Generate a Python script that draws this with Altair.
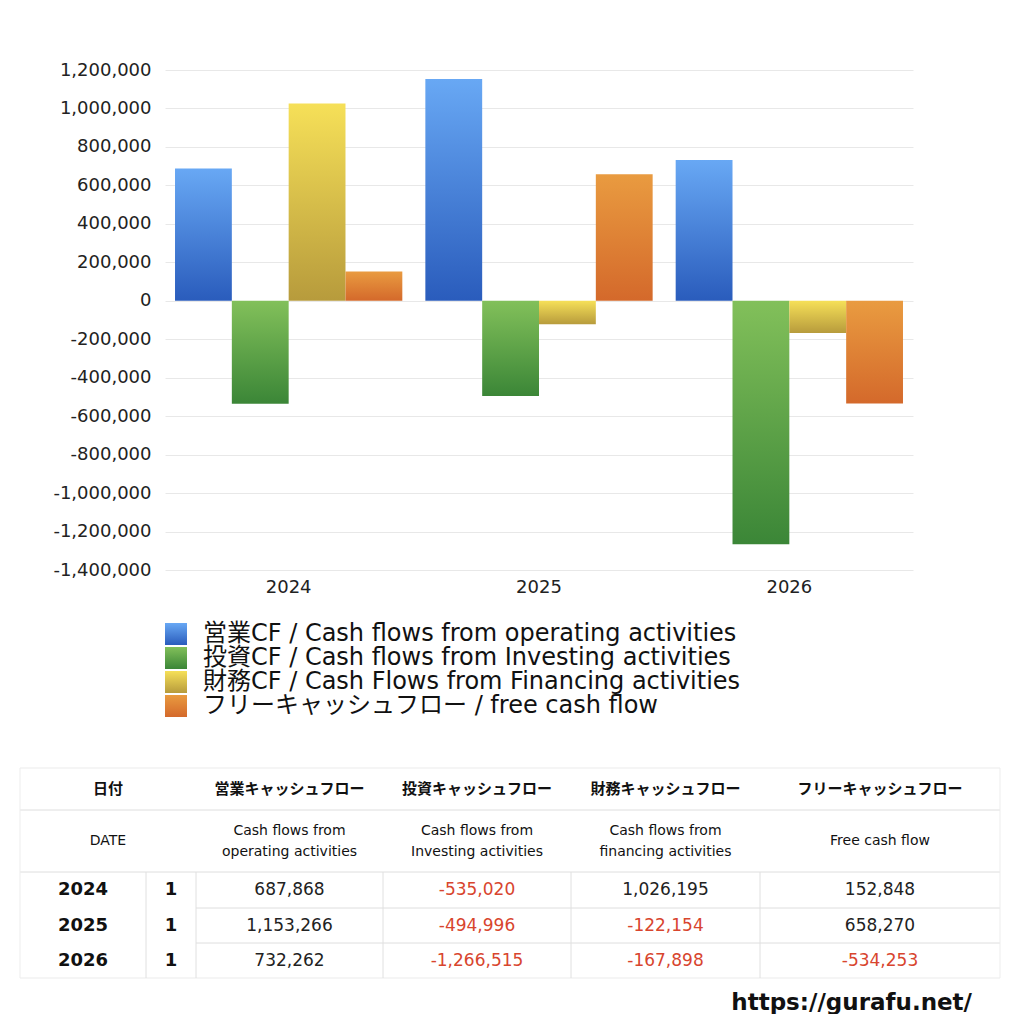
import altair as alt
import pandas as pd

# ---------------- data ----------------
years = ["2024", "2025", "2026"]
series_keys = ["op", "inv", "fin", "free"]
legend_labels = [
    "営業CF / Cash flows from operating activities",
    "投資CF / Cash flows from Investing activities",
    "財務CF / Cash Flows from Financing activities",
    "フリーキャッシュフロー / free cash flow",
]
operating = [687868, 1153266, 732262]
investing = [-535020, -494996, -1266515]
financing = [1026195, -122154, -167898]
free_cf = [152848, 658270, -534253]

header_ja = ["日付", "営業キャッシュフロー", "投資キャッシュフロー", "財務キャッシュフロー", "フリーキャッシュフロー"]
header_en = ["DATE", "Cash flows from\noperating activities", "Cash flows from\nInvesting activities",
             "Cash flows from\nfinancing activities", "Free cash flow"]
month_col = ["1", "1", "1"]
url_text = "https://gurafu.net/"

# ---------------- styles / layout ----------------
LATIN = "DejaVu Sans, Noto Sans CJK JP, sans-serif"
CJK = "Noto Sans CJK JP, DejaVu Sans, sans-serif"
gradients = {
    "op": ("#68a8f4", "#2a5cbc"),
    "inv": ("#82c05a", "#3b8637"),
    "fin": ("#f6e058", "#b79b3c"),
    "free": ("#e99b40", "#d4692b"),
}
ORIGIN_X, ORIGIN_Y = 165, 70
PLOT_W, PLOT_H = 748, 500


def grad(key):
    top, bot = gradients[key]
    return alt.Gradient(gradient="linear",
                        stops=[alt.GradientStop(color=top, offset=0), alt.GradientStop(color=bot, offset=1)],
                        x1=0, x2=0, y1=0, y2=1)


# ---------------- bar chart ----------------
values_by_key = {"op": operating, "inv": investing, "fin": financing, "free": free_cf}
bars_df = pd.DataFrame([
    {"year": y, "series": k, "value": values_by_key[k][i]}
    for k in series_keys for i, y in enumerate(years)
])

xenc = alt.X("year:N", title=None,
             scale=alt.Scale(domain=years, paddingInner=0.092, paddingOuter=0.04),
             axis=alt.Axis(labelAngle=0, labelFont=LATIN, labelFontSize=18, labelColor="#222",
                           labelPadding=8, ticks=False, domain=False, grid=False))
yenc = alt.Y("value:Q", title=None,
             scale=alt.Scale(domain=[-1400000, 1200000], nice=False),
             axis=alt.Axis(values=list(range(-1400000, 1200001, 200000)),
                           labelExpr="replace(format(datum.value, ',d'), '\u2212', '-')",
                           labelFont=LATIN, labelFontSize=18, labelColor="#222", labelPadding=14,
                           ticks=False, domain=False, gridColor="#e8e8e8", gridWidth=1))
xoff = alt.XOffset("series:N", scale=alt.Scale(domain=series_keys, paddingInner=0, paddingOuter=0))

bar_layers = [
    alt.Chart(bars_df).transform_filter(alt.datum.series == k)
    .mark_bar(color=grad(k)).encode(x=xenc, y=yenc, xOffset=xoff)
    for k in series_keys
]
bars = alt.layer(*bar_layers)

# ---------------- page-coordinate layers (legend, table, url) ----------------
PX = alt.Scale(domain=[0, 1000], range=[-ORIGIN_X, 1000 - ORIGIN_X], nice=False, zero=False)
PY = alt.Scale(domain=[0, 1000], range=[-ORIGIN_Y, 1000 - ORIGIN_Y], nice=False, zero=False)


def px(field):
    return alt.X(f"{field}:Q", scale=PX, axis=None)


def py(field):
    return alt.Y(f"{field}:Q", scale=PY, axis=None)


# legend
LEG_X, LEG_Y0, LEG_STEP, SW = 165, 634, 24, 22
leg_rows = [{"key": k, "label": legend_labels[i], "cy": LEG_Y0 + i * LEG_STEP} for i, k in enumerate(series_keys)]
leg_df = pd.DataFrame(leg_rows)
leg_df["x1"] = LEG_X
leg_df["x2"] = LEG_X + SW
leg_df["y1"] = leg_df["cy"] - SW / 2
leg_df["y2"] = leg_df["cy"] + SW / 2
leg_df["tx"] = LEG_X + SW + 16

legend_swatches = [
    alt.Chart(leg_df).transform_filter(alt.datum.key == k).mark_rect(color=grad(k))
    .encode(x=px("x1"), x2="x2:Q", y=py("y1"), y2="y2:Q")
    for k in series_keys
]
legend_text = alt.Chart(leg_df).mark_text(align="left", baseline="middle", font=LATIN, fontSize=24,
                                          color="#111").encode(x=px("tx"), y=py("cy"), text="label:N")

# table
COL_EDGES = [20, 146, 196, 383, 571, 760, 1000]
ROW_EDGES = [768, 810, 872, 908, 943, 978]
LINE_H = 21
col_centers = [(COL_EDGES[i] + COL_EDGES[i + 1]) / 2 for i in range(len(COL_EDGES) - 1)]
head_x = [(COL_EDGES[0] + COL_EDGES[2]) / 2] + col_centers[2:]
row_centers = [(ROW_EDGES[i] + ROW_EDGES[i + 1]) / 2 for i in range(len(ROW_EDGES) - 1)]

h1_df = pd.DataFrame({"x": head_x, "y": row_centers[0], "t": header_ja})
h2_rows = []
for x, txt in zip(head_x, header_en):
    lines = txt.split("\n")
    for i, ln in enumerate(lines):
        h2_rows.append({"x": x, "y": row_centers[1] + (i - (len(lines) - 1) / 2) * LINE_H, "t": ln})
h2_df = pd.DataFrame(h2_rows)
year_df = pd.DataFrame({"x": col_centers[0], "y": row_centers[2:], "t": years})
mon_df = pd.DataFrame({"x": col_centers[1], "y": row_centers[2:], "t": month_col})
val_rows = []
for i in range(len(years)):
    for j, k in enumerate(series_keys):
        v = values_by_key[k][i]
        val_rows.append({"x": col_centers[2 + j], "y": row_centers[2 + i], "v": v, "t": f"{v:,}"})
val_df = pd.DataFrame(val_rows)

h1 = alt.Chart(h1_df).mark_text(font=CJK, fontSize=15, fontWeight="bold", color="#111",
                                baseline="middle").encode(x=px("x"), y=py("y"), text="t:N")
h2 = alt.Chart(h2_df).mark_text(font=LATIN, fontSize=14, color="#111", baseline="middle").encode(
    x=px("x"), y=py("y"), text="t:N")
yr = alt.Chart(year_df).mark_text(font=LATIN, fontSize=18, fontWeight="bold", color="#111",
                                  baseline="middle").encode(x=px("x"), y=py("y"), text="t:N")
mo = alt.Chart(mon_df).mark_text(font=LATIN, fontSize=18, fontWeight="bold", color="#111",
                                 baseline="middle").encode(x=px("x"), y=py("y"), text="t:N")
vals = alt.Chart(val_df).mark_text(font=LATIN, fontSize=17, baseline="middle").encode(
    x=px("x"), y=py("y"), text="t:N",
    color=alt.condition(alt.datum.v < 0, alt.value("#d8452e"), alt.value("#222")))

hlines = pd.DataFrame([
    {"x1": COL_EDGES[0], "x2": COL_EDGES[-1], "y": ROW_EDGES[0], "c": "#ebebeb"},
    {"x1": COL_EDGES[0], "x2": COL_EDGES[-1], "y": ROW_EDGES[1], "c": "#dedede"},
    {"x1": COL_EDGES[0], "x2": COL_EDGES[-1], "y": ROW_EDGES[2], "c": "#dedede"},
    {"x1": COL_EDGES[2], "x2": COL_EDGES[-1], "y": ROW_EDGES[3], "c": "#dedede"},
    {"x1": COL_EDGES[2], "x2": COL_EDGES[-1], "y": ROW_EDGES[4], "c": "#dedede"},
    {"x1": COL_EDGES[0], "x2": COL_EDGES[-1], "y": ROW_EDGES[5], "c": "#ebebeb"},
])
vlines = pd.DataFrame(
    [{"x": COL_EDGES[0], "y1": ROW_EDGES[0], "y2": ROW_EDGES[-1], "c": "#ededed"},
     {"x": COL_EDGES[-1], "y1": ROW_EDGES[0], "y2": ROW_EDGES[-1], "c": "#ededed"}] +
    [{"x": e, "y1": ROW_EDGES[2], "y2": ROW_EDGES[-1], "c": "#e0e0e0"} for e in COL_EDGES[1:-1]]
)
hrule = alt.Chart(hlines).mark_rule(strokeWidth=1).encode(
    x=px("x1"), x2="x2:Q", y=py("y"), color=alt.Color("c:N", scale=None))
vrule = alt.Chart(vlines).mark_rule(strokeWidth=1).encode(
    x=px("x"), y=py("y1"), y2="y2:Q", color=alt.Color("c:N", scale=None))

url_df = pd.DataFrame({"x": [972], "y": [1003], "t": [url_text]})
url = alt.Chart(url_df).mark_text(font=LATIN, fontSize=23, fontWeight="bold", color="#111",
                                  align="right", baseline="middle").encode(x=px("x"), y=py("y"), text="t:N")

page = alt.layer(*legend_swatches, legend_text, hrule, vrule, h1, h2, yr, mo, vals, url)

chart = alt.layer(bars, page).resolve_scale(x="independent", y="independent", color="independent").properties(
    width=PLOT_W, height=PLOT_H,
    autosize=alt.AutoSizeParams(type="none"),
    padding={"left": ORIGIN_X - 8, "top": ORIGIN_Y - 8, "right": 1016 - ORIGIN_X - PLOT_W, "bottom": 1014 - ORIGIN_Y - PLOT_H},
).configure_view(stroke=None)

chart.save("out.html", embed_options={"renderer": "svg", "actions": False})
